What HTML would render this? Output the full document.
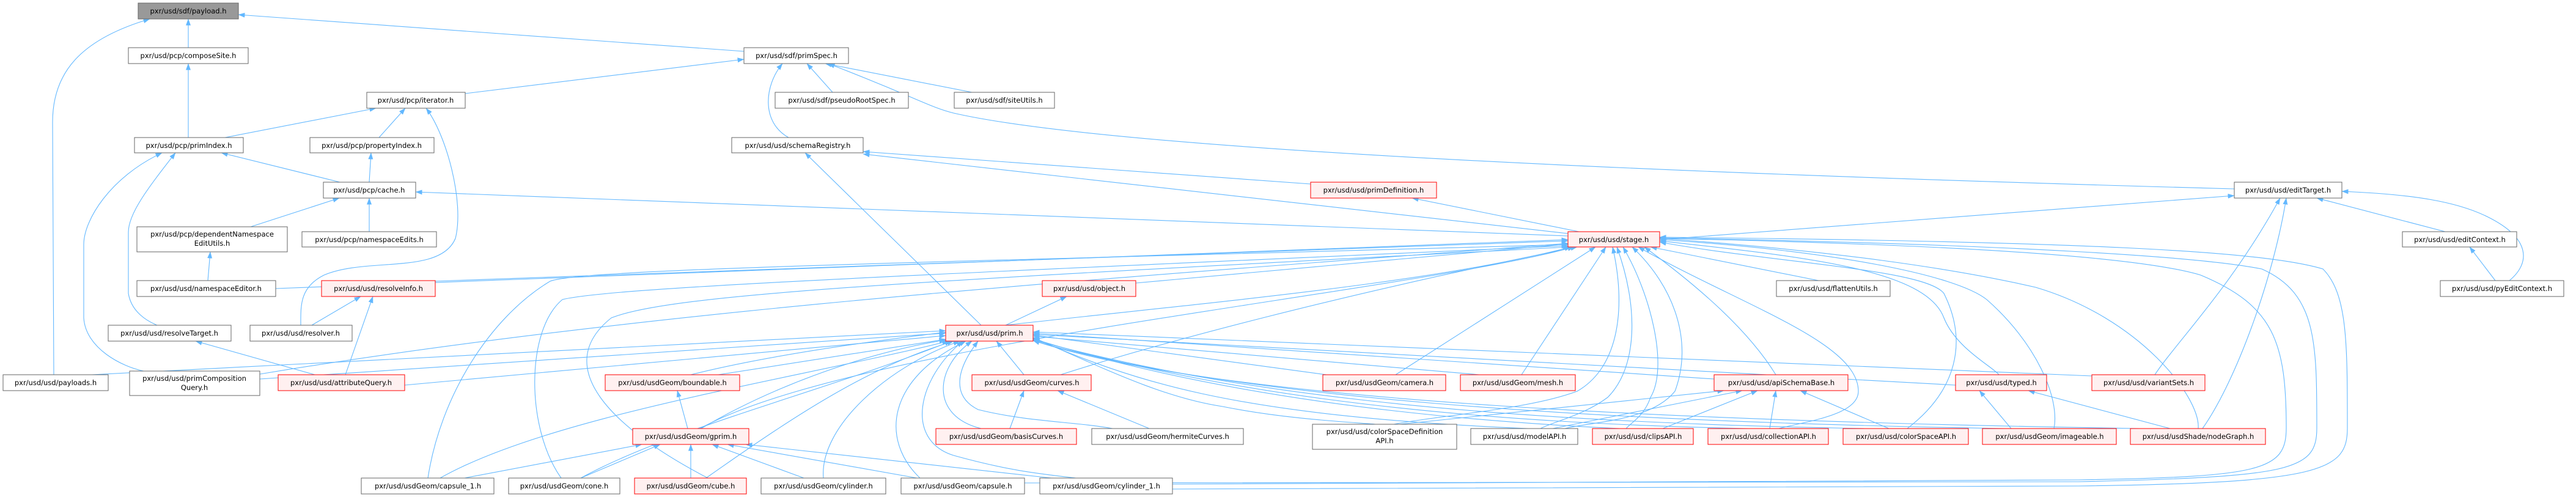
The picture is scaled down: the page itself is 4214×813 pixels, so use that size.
<!DOCTYPE html>
<html><head><meta charset="utf-8"><style>
html,body{margin:0;padding:0;background:#fff;}
svg{display:block;}
text{font-family:"DejaVu Sans","Liberation Sans",sans-serif;font-size:11.5px;fill:#000;text-anchor:middle;}
.e{fill:none;stroke:#63b8ff;stroke-width:1.1;marker-start:url(#a);}
.n{fill:#fff;stroke:#666;stroke-width:1;}
.r{fill:#fff0f0;stroke:#ff0000;stroke-width:1;}
.g{fill:#999;stroke:#666;stroke-width:1;}
</style></head><body>
<svg width="4214" height="813" viewBox="0 0 4214 813" xmlns="http://www.w3.org/2000/svg">
<defs><marker id="a" markerWidth="11" markerHeight="8" refX="10.5" refY="4" orient="auto-start-reverse" markerUnits="userSpaceOnUse"><path d="M0,0 L11,4 L0,8 z" fill="#63b8ff"/></marker></defs>
<g>
<path class="e" d="M308,31 L308,78"/>
<path class="e" d="M245,31 C130,65 86,120 86,200 L88,613"/>
<path class="e" d="M390,24 L1217,84"/>
<path class="e" d="M308,104 L308,225"/>
<path class="e" d="M1217,97 L761,153"/>
<path class="e" d="M615,177 L368,225"/>
<path class="e" d="M663,177 L620,225"/>
<path class="e" d="M697,177 C730,220 760,330 745,390 C720,450 600,420 530,450 C490,470 492,500 492,532"/>
<path class="e" d="M265,250 C180,290 137,360 137,400 L137,520 C140,570 200,600 235,607"/>
<path class="e" d="M287,250 C240,310 210,350 210,380 L210,480 C215,510 240,525 257,532"/>
<path class="e" d="M362,250 L556,298"/>
<path class="e" d="M607,250 L604,298"/>
<path class="e" d="M555,324 L410,371"/>
<path class="e" d="M604,324 L604,379"/>
<path class="e" d="M680,314 L2565,386"/>
<path class="e" d="M344,412 L340,459"/>
<path class="e" d="M2565,392 L451,472"/>
<path class="e" d="M2565,394 L712,460"/>
<path class="e" d="M590,485 L510,532"/>
<path class="e" d="M610,485 L565,613"/>
<path class="e" d="M320,558 L515,613"/>
<path class="e" d="M1547,541 L150,613"/>
<path class="e" d="M1547,545 L425,620"/>
<path class="e" d="M2565,398 C1900,450 1100,500 425,612"/>
<path class="e" d="M1547,549 L662,630"/>
<path class="e" d="M1317,250 L1605,532"/>
<path class="e" d="M1280,104 C1250,140 1245,200 1290,225"/>
<path class="e" d="M1320,104 L1362,151"/>
<path class="e" d="M1350,104 L1590,151"/>
<path class="e" d="M1355,104 C1500,160 1520,175 1560,185 C1800,240 2600,280 3655,309"/>
<path class="e" d="M1412,248 L2144,301"/>
<path class="e" d="M1412,252 L2565,382"/>
<path class="e" d="M2310,324 L2583,379"/>
<path class="e" d="M3655,320 L2715,392"/>
<path class="e" d="M3790,324 L4000,379"/>
<path class="e" d="M3831,313 C3950,318 4020,330 4070,355 C4140,390 4140,430 4105,459"/>
<path class="e" d="M4040,404 L4082,459"/>
<path class="e" d="M3730,324 C3650,470 3560,560 3525,613"/>
<path class="e" d="M3740,324 C3720,450 3660,620 3603,701"/>
<!-- stage children -->
<path class="e" d="M2565,399 L1858,463"/>
<path class="e" d="M2570,404 C2200,500 1500,520 1130,613"/>
<path class="e" d="M2575,404 C2300,480 1400,560 1145,701"/>
<path class="e" d="M2565,400 C1500,430 950,440 900,460 C800,520 720,650 700,782"/>
<path class="e" d="M2565,402 C1500,450 1000,470 920,490 C860,540 860,700 918,782"/>
<path class="e" d="M2567,404 C1500,460 1100,480 1000,520 C900,600 1000,700 1158,782"/>
<path class="e" d="M2580,404 C2200,480 1900,560 1735,613"/>
<path class="e" d="M2610,404 L2283,613"/>
<path class="e" d="M2627,404 L2489,613"/>
<path class="e" d="M2700,404 L2975,459"/>
<path class="e" d="M2690,404 C2780,470 2860,540 2905,613"/>
<path class="e" d="M2638,404 C2660,500 2650,600 2580,640 C2500,670 2350,680 2280,694"/>
<path class="e" d="M2645,404 C2680,500 2680,600 2630,650 C2590,680 2540,690 2520,701"/>
<path class="e" d="M2655,404 C2700,480 2730,600 2700,650 C2690,680 2670,690 2660,701"/>
<path class="e" d="M2670,404 C2740,470 2770,560 2740,640 C2700,690 2600,690 2560,701"/>
<path class="e" d="M2680,404 C2850,500 3040,560 3040,640 C3040,680 2950,690 2910,701"/>
<path class="e" d="M2715,396 C2900,430 3150,440 3180,480 C3220,560 3200,640 3120,701"/>
<path class="e" d="M2715,394 C2950,420 3150,440 3180,520 C3200,570 3260,600 3270,613"/>
<path class="e" d="M2715,392 C3000,410 3200,450 3250,490 C3330,560 3370,650 3360,701"/>
<path class="e" d="M2715,390 C3000,410 3200,440 3330,470 C3500,520 3600,650 3596,701"/>
<path class="e" d="M2715,390 C3200,400 3500,420 3600,450 C3720,500 3740,560 3740,700 C3740,770 3700,780 3400,785 L1918,792"/>
<path class="e" d="M2715,389 C3300,400 3600,420 3700,440 C3790,480 3790,560 3790,700 C3790,770 3750,780 3400,788 L1676,790"/>
<path class="e" d="M2715,388 C3400,395 3700,410 3800,440 C3840,480 3840,560 3840,700 C3840,770 3800,790 3400,795 L1918,800"/>
<!-- prim children -->
<path class="e" d="M1547,555 L1175,613"/>
<path class="e" d="M1547,556 C1400,580 1250,640 1147,701"/>
<path class="e" d="M1560,558 C1420,600 1300,680 1155,782"/>
<path class="e" d="M1570,558 C1450,600 1340,700 1347,782"/>
<path class="e" d="M1580,558 C1450,620 1440,720 1505,782"/>
<path class="e" d="M1575,558 C1500,620 1480,720 1560,745 C1650,770 1700,775 1760,782"/>
<path class="e" d="M1552,558 C1300,620 900,680 720,782"/>
<path class="e" d="M1556,558 C1350,640 1100,700 950,782"/>
<path class="e" d="M1630,558 L1675,613"/>
<path class="e" d="M1590,558 C1530,600 1520,680 1605,701"/>
<path class="e" d="M1600,558 C1560,610 1560,650 1600,670 C1680,690 1760,690 1820,701"/>
<path class="e" d="M1690,548 L2170,613"/>
<path class="e" d="M1690,550 L2420,613"/>
<path class="e" d="M1690,545 L2804,620"/>
<path class="e" d="M1690,552 C1800,600 1900,650 2000,665 C2100,685 2200,690 2250,694"/>
<path class="e" d="M1690,553 C1850,620 2000,680 2500,701"/>
<path class="e" d="M1690,554 C1900,620 2200,680 2650,701"/>
<path class="e" d="M1690,555 C1950,630 2300,690 2860,701"/>
<path class="e" d="M1690,556 C2000,640 2400,690 3050,701"/>
<path class="e" d="M1690,547 L3199,630"/>
<path class="e" d="M1690,543 L3422,615"/>
<path class="e" d="M1690,557 C2000,650 2600,690 3280,701"/>
<path class="e" d="M1690,557 C2000,660 2800,690 3500,701"/>
<path class="e" d="M1745,485 L1645,532"/>
<path class="e" d="M1108,639 L1125,701"/>
<path class="e" d="M1050,727 L760,782"/>
<path class="e" d="M1080,727 L950,782"/>
<path class="e" d="M1130,727 L1130,782"/>
<path class="e" d="M1165,727 L1315,782"/>
<path class="e" d="M1190,727 L1500,782"/>
<path class="e" d="M1220,727 L1720,782"/>
<path class="e" d="M1675,639 L1652,701"/>
<path class="e" d="M1730,639 L1880,701"/>
<path class="e" d="M2820,639 L2290,694"/>
<path class="e" d="M2850,639 L2540,701"/>
<path class="e" d="M2875,639 L2720,701"/>
<path class="e" d="M2905,639 L2895,701"/>
<path class="e" d="M2945,639 L3090,701"/>
<path class="e" d="M3238,639 L3290,701"/>
<path class="e" d="M3318,639 L3550,701"/>
</g>
<g>
<rect class="g" x="226" y="5" width="164" height="26"/><text x="308" y="22">pxr/usd/sdf/payload.h</text>
<rect class="n" x="210" y="78" width="196" height="26"/><text x="308" y="95">pxr/usd/pcp/composeSite.h</text>
<rect class="n" x="600" y="151" width="161" height="26"/><text x="680" y="168">pxr/usd/pcp/iterator.h</text>
<rect class="n" x="220" y="225" width="178" height="25"/><text x="309" y="242">pxr/usd/pcp/primIndex.h</text>
<rect class="n" x="507" y="225" width="203" height="25"/><text x="608" y="242">pxr/usd/pcp/propertyIndex.h</text>
<rect class="n" x="529" y="298" width="151" height="26"/><text x="604" y="315">pxr/usd/pcp/cache.h</text>
<rect class="n" x="224" y="371" width="246" height="41"/><text x="347" y="387">pxr/usd/pcp/dependentNamespace</text><text x="347" y="402">EditUtils.h</text>
<rect class="n" x="494" y="379" width="220" height="25"/><text x="604" y="396">pxr/usd/pcp/namespaceEdits.h</text>
<rect class="n" x="224" y="459" width="227" height="26"/><text x="337" y="476">pxr/usd/usd/namespaceEditor.h</text>
<rect class="r" x="526" y="459" width="186" height="26"/><text x="619" y="476">pxr/usd/usd/resolveInfo.h</text>
<rect class="n" x="177" y="532" width="201" height="26"/><text x="277" y="549">pxr/usd/usd/resolveTarget.h</text>
<rect class="n" x="409" y="532" width="167" height="26"/><text x="492" y="549">pxr/usd/usd/resolver.h</text>
<rect class="n" x="5" y="613" width="172" height="26"/><text x="91" y="630">pxr/usd/usd/payloads.h</text>
<rect class="n" x="212" y="607" width="213" height="40"/><text x="318" y="623">pxr/usd/usd/primComposition</text><text x="318" y="638">Query.h</text>
<rect class="r" x="455" y="613" width="207" height="26"/><text x="558" y="630">pxr/usd/usd/attributeQuery.h</text>
<rect class="r" x="990" y="613" width="220" height="26"/><text x="1100" y="630">pxr/usd/usdGeom/boundable.h</text>
<rect class="n" x="591" y="782" width="217" height="26"/><text x="700" y="799">pxr/usd/usdGeom/capsule_1.h</text>
<rect class="n" x="832" y="782" width="182" height="26"/><text x="923" y="799">pxr/usd/usdGeom/cone.h</text>
<rect class="r" x="1038" y="782" width="183" height="26"/><text x="1130" y="799">pxr/usd/usdGeom/cube.h</text>
<rect class="n" x="1245" y="782" width="204" height="26"/><text x="1347" y="799">pxr/usd/usdGeom/cylinder.h</text>
<rect class="n" x="1474" y="782" width="202" height="26"/><text x="1575" y="799">pxr/usd/usdGeom/capsule.h</text>
<rect class="n" x="1701" y="782" width="217" height="26"/><text x="1810" y="799">pxr/usd/usdGeom/cylinder_1.h</text>
<rect class="r" x="1035" y="701" width="190" height="26"/><text x="1130" y="718">pxr/usd/usdGeom/gprim.h</text>
<rect class="r" x="1531" y="701" width="230" height="26"/><text x="1646" y="718">pxr/usd/usdGeom/basisCurves.h</text>
<rect class="n" x="1786" y="701" width="248" height="26"/><text x="1910" y="718">pxr/usd/usdGeom/hermiteCurves.h</text>
<rect class="n" x="2147" y="694" width="236" height="41"/><text x="2265" y="710">pxr/usd/usd/colorSpaceDefinition</text><text x="2265" y="725">API.h</text>
<rect class="n" x="2406" y="701" width="175" height="26"/><text x="2494" y="718">pxr/usd/usd/modelAPI.h</text>
<rect class="r" x="2605" y="701" width="165" height="26"/><text x="2688" y="718">pxr/usd/usd/clipsAPI.h</text>
<rect class="r" x="2794" y="701" width="197" height="26"/><text x="2893" y="718">pxr/usd/usd/collectionAPI.h</text>
<rect class="r" x="3015" y="701" width="205" height="26"/><text x="3118" y="718">pxr/usd/usd/colorSpaceAPI.h</text>
<rect class="r" x="3243" y="701" width="219" height="26"/><text x="3353" y="718">pxr/usd/usdGeom/imageable.h</text>
<rect class="r" x="3485" y="701" width="221" height="26"/><text x="3596" y="718">pxr/usd/usdShade/nodeGraph.h</text>
<rect class="r" x="2164" y="613" width="201" height="26"/><text x="2265" y="630">pxr/usd/usdGeom/camera.h</text>
<rect class="r" x="2389" y="613" width="188" height="26"/><text x="2483" y="630">pxr/usd/usdGeom/mesh.h</text>
<rect class="r" x="2804" y="613" width="219" height="26"/><text x="2914" y="630">pxr/usd/usd/apiSchemaBase.h</text>
<rect class="r" x="1590" y="613" width="195" height="26"/><text x="1688" y="630">pxr/usd/usdGeom/curves.h</text>
<rect class="r" x="3199" y="613" width="149" height="26"/><text x="3274" y="630">pxr/usd/usd/typed.h</text>
<rect class="r" x="3422" y="613" width="185" height="26"/><text x="3515" y="630">pxr/usd/usd/variantSets.h</text>
<rect class="r" x="1547" y="532" width="143" height="26"/><text x="1619" y="549">pxr/usd/usd/prim.h</text>
<rect class="r" x="1705" y="459" width="153" height="26"/><text x="1782" y="476">pxr/usd/usd/object.h</text>
<rect class="n" x="2906" y="459" width="186" height="26"/><text x="2999" y="476">pxr/usd/usd/flattenUtils.h</text>
<rect class="r" x="2144" y="298" width="206" height="26"/><text x="2247" y="315">pxr/usd/usd/primDefinition.h</text>
<rect class="r" x="2565" y="379" width="150" height="25"/><text x="2640" y="396">pxr/usd/usd/stage.h</text>
<rect class="n" x="3655" y="298" width="176" height="26"/><text x="3743" y="315">pxr/usd/usd/editTarget.h</text>
<rect class="n" x="3930" y="379" width="187" height="25"/><text x="4024" y="396">pxr/usd/usd/editContext.h</text>
<rect class="n" x="3992" y="459" width="202" height="26"/><text x="4093" y="476">pxr/usd/usd/pyEditContext.h</text>
<rect class="n" x="1217" y="78" width="171" height="26"/><text x="1303" y="95">pxr/usd/sdf/primSpec.h</text>
<rect class="n" x="1268" y="151" width="218" height="26"/><text x="1377" y="168">pxr/usd/sdf/pseudoRootSpec.h</text>
<rect class="n" x="1561" y="151" width="164" height="26"/><text x="1643" y="168">pxr/usd/sdf/siteUtils.h</text>
<rect class="n" x="1197" y="225" width="215" height="25"/><text x="1305" y="242">pxr/usd/usd/schemaRegistry.h</text>
</g>
</svg>
</body></html>
